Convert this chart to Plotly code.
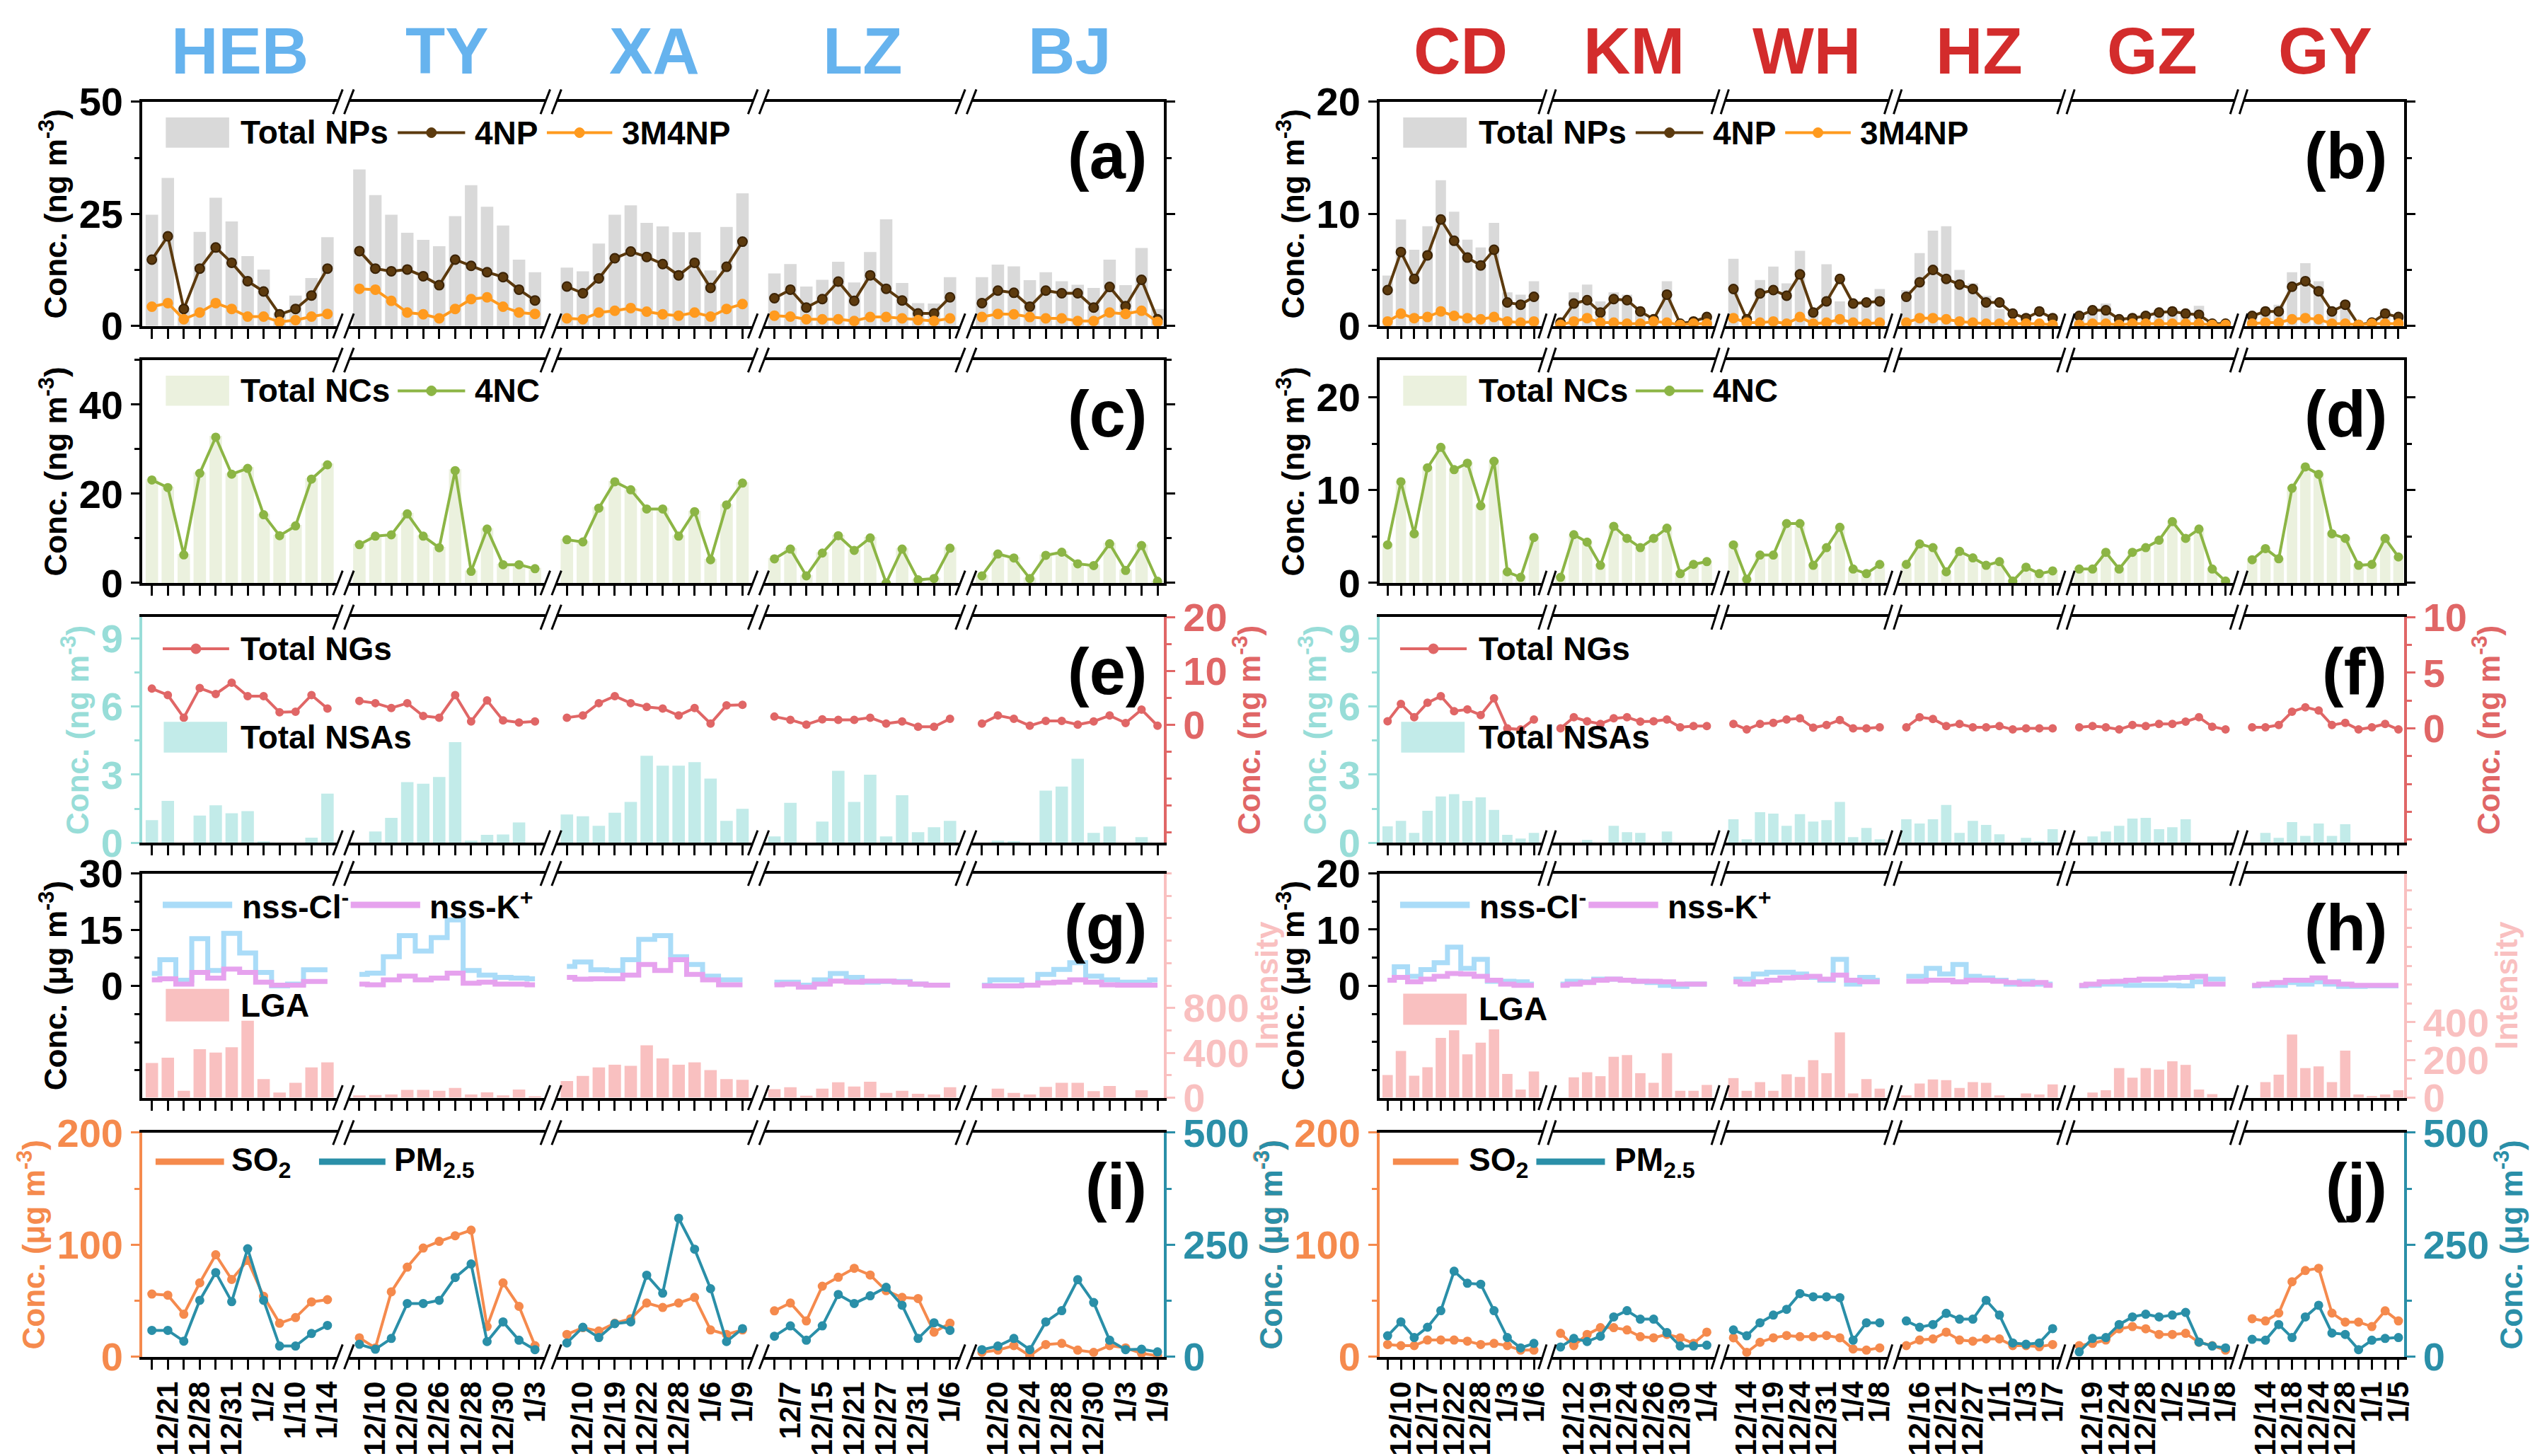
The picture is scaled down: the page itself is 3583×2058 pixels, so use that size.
import plotly.graph_objects as go

# ---------------- data ----------------
CITIES_L = ["HEB", "TY", "XA", "LZ", "BJ"]
CITIES_R = ["CD", "KM", "WH", "HZ", "GZ", "GY"]

DATES_L = [["12/21", "12/28", "12/31", "1/2", "1/10", "1/14"],
           ["12/10", "12/20", "12/26", "12/28", "12/30", "1/3"],
           ["12/10", "12/19", "12/22", "12/28", "1/6", "1/9"],
           ["12/7", "12/15", "12/21", "12/27", "12/31", "1/6"],
           ["12/20", "12/24", "12/28", "12/30", "1/3", "1/9"]]
DATES_R = [["12/10", "12/17", "12/22", "12/28", "1/3", "1/6"],
           ["12/12", "12/19", "12/24", "12/26", "12/30", "1/4"],
           ["12/14", "12/19", "12/24", "12/31", "1/4", "1/8"],
           ["12/16", "12/21", "12/27", "1/1", "1/3", "1/7"],
           ["12/19", "12/24", "12/28", "1/2", "1/5", "1/8"],
           ["12/14", "12/18", "12/24", "12/28", "1/1", "1/5"]]

# (a) left
NP_TOT_L = [[24.8, 33, 4, 21, 28.6, 23.3, 15.6, 12.6, 3, 6.8, 10.7, 19.8],
            [34.9, 29.2, 24.8, 20.8, 19.2, 17.8, 24.5, 31.4, 26.6, 22.4, 14.8, 12],
            [13, 12.2, 18.4, 24.8, 26.9, 23, 22.2, 20.9, 20.9, 12.4, 22.1, 29.6],
            [11.7, 13.8, 8.8, 10.3, 14.3, 9.7, 16.5, 23.8, 9.6, 5.1, 5, 10.9],
            [10.9, 13.7, 13.3, 10.2, 12, 10, 9.2, 8.5, 14.8, 9.1, 17.4, 3.8]]
NP4_L = [[14.8, 20, 3.8, 12.8, 17.5, 14.1, 10, 7.7, 2.6, 3.8, 6.8, 12.8],
         [16.7, 12.8, 12.2, 12.6, 11.1, 9.1, 14.8, 13.4, 12, 10.9, 8.1, 5.7],
         [8.8, 7.3, 10.6, 15.1, 16.6, 15.4, 13.8, 11.3, 14.1, 8.5, 13.2, 18.8],
         [6.2, 8.1, 4.1, 6, 9.9, 5.6, 11.3, 8.3, 5.7, 2.8, 2.8, 6.4],
         [5.1, 7.9, 7.4, 4.3, 7.9, 7.3, 7.3, 4.1, 8.7, 4.4, 10.3, 1.5]]
NP3M4_L = [[4.3, 5.1, 1.5, 3, 5.1, 3.8, 2.1, 2.1, 0.9, 1.3, 2.1, 2.7],
           [8.3, 8.1, 5.6, 3, 2.6, 1.7, 3.8, 6, 6.4, 4.3, 3, 2.7],
           [1.7, 1.5, 3, 3.4, 4, 3.2, 2.6, 2.3, 3, 2.1, 3.8, 4.9],
           [2.3, 2.1, 1.5, 1.5, 1.5, 1.1, 2, 2, 1.7, 1.3, 1.1, 1.7],
           [2, 2.7, 2.6, 2, 1.7, 1.7, 1.1, 1.1, 3, 2.7, 3.4, 0.9]]
# (b) right
NP_TOT_R = [[4.5, 9.5, 6.8, 8.9, 13, 10.2, 7.7, 7, 9.2, 3, 2.8, 4],
            [0.5, 3, 3.7, 2.2, 3, 2.8, 1.4, 0.7, 4, 0.3, 0.5, 0.9],
            [6, 0.9, 4.1, 5.3, 3.8, 6.7, 1.2, 5.5, 2.2, 2.2, 2.2, 3.3],
            [3.2, 6.5, 8.5, 8.9, 5, 3.8, 2.7, 1.5, 0.4, 0.6, 0.3, 0.3],
            [1.1, 1.5, 2, 0.8, 0.9, 1.2, 1.4, 1.4, 1.2, 1.8, 0.3, 0.2],
            [0.9, 1.4, 1.9, 4.8, 5.6, 4, 1.4, 2.1, 0.2, 0.5, 1.5, 0.8]]
NP4_R = [[3.2, 6.6, 4.2, 6.3, 9.5, 7.6, 6.1, 5.4, 6.8, 2.1, 1.9, 2.6],
         [0.3, 2, 2.3, 1.2, 2.4, 2.3, 1.3, 0.6, 2.8, 0.2, 0.4, 0.8],
         [3.3, 0.6, 2.9, 3.2, 2.7, 4.6, 1.2, 2.2, 4.2, 2, 2.1, 2.2],
         [2.6, 3.9, 5, 4.2, 3.7, 3.3, 2.1, 2.1, 1.1, 0.7, 1.3, 0.7],
         [0.9, 1.4, 1.4, 0.6, 0.7, 0.9, 1.2, 1.3, 1.1, 1, 0.2, 0.2],
         [0.9, 1.3, 1.3, 3.5, 4, 3.1, 1.3, 1.9, 0.1, 0.3, 1.1, 0.8]]
NP3M4_R = [[0.4, 1.1, 0.7, 0.8, 1.3, 0.9, 0.7, 0.6, 0.8, 0.4, 0.3, 0.4],
           [0.1, 0.4, 0.7, 0.3, 0.3, 0.2, 0.2, 0.4, 0.3, 0.1, 0.2, 0.2],
           [0.7, 0.3, 0.3, 0.4, 0.2, 0.8, 0.2, 0.3, 0.6, 0.3, 0.2, 0.3],
           [0.3, 0.7, 0.7, 0.6, 0.4, 0.3, 0.2, 0.2, 0.2, 0.2, 0.2, 0.1],
           [0.1, 0.2, 0.2, 0.1, 0.2, 0.2, 0.2, 0.2, 0.2, 0.2, 0.1, 0.1],
           [0.2, 0.3, 0.3, 0.6, 0.7, 0.6, 0.2, 0.2, 0.1, 0.2, 0.2, 0.2]]
# (c) left
NC4_L = [[23.1, 21.4, 6.3, 24.6, 32.7, 24.4, 25.7, 15.3, 10.6, 12.8, 23.3, 26.5],
         [8.6, 10.5, 10.8, 15.5, 10.5, 7.9, 25.2, 2.6, 12.1, 4.1, 4.1, 3.2],
         [9.7, 9.2, 16.8, 22.7, 20.9, 16.6, 16.6, 10.5, 16, 5.2, 17.5, 22.4],
         [5.4, 7.6, 1.6, 6.7, 10.6, 7.3, 10.1, 0, 7.6, 0.7, 1, 7.8],
         [1.6, 6.5, 5.6, 1, 6.2, 6.9, 4.3, 3.9, 8.8, 2.8, 8.4, 0.4]]
NC_TOT_L = [[23.3, 21.6, 6.5, 24.8, 33.0, 24.6, 26.0, 15.5, 10.8, 13.0, 23.5, 26.8],
            [8.8, 10.7, 11.0, 15.7, 10.7, 8.1, 25.5, 2.8, 12.3, 4.3, 4.3, 3.4],
            [9.9, 9.4, 17.0, 22.9, 21.1, 16.8, 16.8, 10.7, 16.2, 5.4, 17.7, 22.6],
            [5.6, 7.8, 1.8, 6.9, 10.8, 7.5, 10.3, 0.1, 7.8, 0.9, 1.2, 8.0],
            [1.8, 6.7, 5.8, 1.2, 6.4, 7.1, 4.5, 4.1, 9.0, 3.0, 8.6, 0.5]]
# (d) right
NC4_R = [[4.1, 10.9, 5.3, 12.4, 14.6, 12.2, 12.9, 8.3, 13.1, 1.2, 0.6, 4.9],
         [0.6, 5.2, 4.4, 1.9, 6.1, 4.8, 3.8, 4.8, 5.9, 1, 2, 2.3],
         [4.1, 0.4, 3, 3, 6.4, 6.4, 1.9, 3.8, 6, 1.5, 1, 2],
         [2, 4.2, 3.8, 1.2, 3.4, 2.7, 1.9, 2.3, 0.2, 1.7, 1, 1.3],
         [1.5, 1.5, 3.3, 1.5, 3.3, 3.8, 4.6, 6.6, 4.8, 5.8, 1.5, 0.2],
         [2.5, 3.7, 2.6, 10.2, 12.5, 11.7, 5.3, 4.8, 1.9, 2, 4.8, 2.8]]
NC_TOT_R = [[4.2, 11.0, 5.4, 12.5, 14.7, 12.3, 13.0, 8.4, 13.2, 1.3, 0.7, 5.0],
            [0.7, 5.3, 4.5, 2.0, 6.2, 4.9, 3.9, 4.9, 6.0, 1.1, 2.1, 2.4],
            [4.2, 0.5, 3.1, 3.1, 6.5, 6.5, 2.0, 3.9, 6.1, 1.6, 1.1, 2.1],
            [2.1, 4.3, 3.9, 1.3, 3.5, 2.8, 2.0, 2.4, 0.3, 1.8, 1.1, 1.4],
            [1.6, 1.6, 3.4, 1.6, 3.4, 3.9, 4.7, 6.7, 4.9, 5.9, 1.6, 0.3],
            [2.6, 3.8, 2.7, 10.3, 12.6, 11.8, 5.4, 4.9, 2.0, 2.1, 4.9, 2.9]]
# (e)
NG_L = [[6.7, 5.5, 1.3, 6.8, 5.7, 7.8, 5.3, 5.3, 2.3, 2.4, 5.5, 3.0],
        [4.4, 4.0, 3.1, 4.0, 1.6, 1.3, 5.5, 0.6, 4.5, 0.8, 0.4, 0.6],
        [1.3, 1.7, 4.0, 5.3, 4.0, 3.3, 3.0, 1.7, 3.1, 0.2, 3.6, 3.7],
        [1.5, 0.9, 0.0, 1.0, 0.9, 0.9, 1.3, 0.2, 0.6, -0.4, -0.4, 1.1],
        [0.2, 1.7, 1.1, -0.2, 0.7, 0.7, 0.0, 0.6, 1.7, 0.3, 2.8, -0.2]]
NSA_L = [[1.0, 1.85, 0, 1.2, 1.65, 1.3, 1.4, 0.05, 0, 0, 0.23, 2.17],
         [0, 0.5, 1.1, 2.67, 2.6, 2.9, 4.43, 0.1, 0.35, 0.37, 0.9, 0],
         [1.25, 1.17, 0.75, 1.33, 1.8, 3.83, 3.4, 3.4, 3.55, 2.83, 0.97, 1.5],
         [0.28, 1.76, 0, 0.94, 3.17, 1.8, 3.0, 0.28, 2.1, 0.47, 0.69, 0.97],
         [0, 0.1, 0.07, 0, 2.3, 2.48, 3.7, 0.44, 0.72, 0, 0.25, 0]]
# (f)
NG_R = [[0.64, 2.2, 1.0, 2.3, 2.9, 1.55, 1.7, 1.2, 2.7, 0.0, -0.1, 0.8],
        [0.0, 1.0, 0.64, 0.4, 0.9, 1.0, 0.6, 0.64, 0.8, 0.1, 0.2, 0.2],
        [0.4, -0.1, 0.4, 0.5, 0.8, 0.9, 0.06, 0.3, 0.75, 0.0, 0.0, 0.1],
        [0.1, 1.0, 0.85, 0.2, 0.4, 0.1, 0.1, 0.2, -0.1, 0.0, 0.0, 0.0],
        [0.1, 0.2, 0.1, -0.1, 0.3, 0.2, 0.4, 0.4, 0.6, 1.0, 0.15, -0.1],
        [0.1, 0.1, 0.3, 1.5, 1.9, 1.6, 0.3, 0.5, -0.1, 0.1, 0.4, -0.1]]
NSA_R = [[0.73, 0.97, 0.44, 1.41, 2.04, 2.14, 1.85, 2.0, 1.45, 0.35, 0.19, 0.44],
         [0, 0, 0.13, 0, 0.75, 0.47, 0.44, 0, 0.5, 0, 0, 0],
         [1.04, 0.16, 1.35, 1.29, 0.75, 1.26, 0.94, 1.0, 1.8, 0.25, 0.66, 0.16],
         [1.04, 0.85, 1.04, 1.67, 0.44, 0.97, 0.79, 0.38, 0, 0.22, 0.05, 0.6],
         [0, 0.28, 0.5, 0.75, 1.07, 1.1, 0.6, 0.69, 1.04, 0, 0, 0],
         [0, 0.44, 0.22, 0.91, 0.31, 0.85, 0.31, 0.82, 0, 0, 0, 0]]
# (g)
CL_L = [[3.3, 7, 1.5, 12.6, 4.1, 14, 8.8, 3.6, 0, 0.5, 4.3, 4.3],
        [3.1, 3.4, 7.8, 13.4, 9.3, 12.9, 17.6, 4.1, 2.9, 2.3, 2.1, 1.9],
        [5.2, 6.4, 4.3, 4.1, 7, 12.4, 13.4, 7.8, 5.7, 2.6, 1.6, 1.6],
        [1, 1, 0.2, 1.6, 3.3, 2.3, 1, 1.2, 1.2, 0.5, 0.2, 0.2],
        [0.2, 1.6, 1.6, 0.2, 3.1, 4.4, 6.2, 2.6, 1.6, 1, 1, 1.6]]
K_L = [[1.6, 1.9, 0.5, 3.6, 2.1, 4.5, 3.6, 1, 0.2, 0.2, 1.2, 1.2],
       [0.5, 0.3, 1.6, 2.6, 1.6, 2.1, 3.4, 0.7, 1, 0.5, 0.5, 0.3],
       [2.3, 1.8, 1.9, 1.9, 2.9, 5.7, 4.1, 7, 3.1, 1.6, 0.3, 0.3],
       [0.3, 0.5, -0.3, 0.5, 1.3, 1, 1.3, 1.3, 1, 0.5, 0.2, 0.2],
       [0, 0, 0, 0.2, 0.8, 1, 1.6, 1, 0.3, 0.2, 0.2, 0.2]]
LGA_L = [[310, 357, 62, 433, 402, 450, 686, 166, 45, 132, 270, 315],
         [21, 24, 28, 69, 69, 62, 87, 28, 48, 21, 73, 10],
         [149, 194, 270, 294, 284, 467, 350, 294, 315, 246, 166, 159],
         [76, 93, 17, 80, 138, 100, 142, 42, 62, 35, 28, 93],
         [0, 80, 42, 28, 97, 132, 132, 59, 104, 0, 66, 0]]
# (h)
CL_R = [[1, 3.4, 1.7, 2.9, 4.1, 6.9, 3.1, 4.7, 0.8, 0.8, 0.7, 0.3],
        [0.3, 0.8, 0.7, 1.2, 1.2, 1, 0.8, 0.6, 0.1, -0.1, 0.3, 0.3],
        [1.2, 1.2, 2.1, 2.4, 2.4, 2.1, 1.5, 1, 4.7, 0.3, 1.5, 1],
        [1.7, 1.7, 3.1, 2.1, 3.8, 1.7, 1.4, 1, 0.3, 0.8, 0.3, 0.3],
        [0, 0.1, 0.3, 0.3, 0.1, 0.1, 0.1, 0.1, 0, 0.7, 1.2, 1.2],
        [0, 0.1, 0.1, 0.6, 0.3, 0.7, 0.3, -0.1, -0.1, 0, 0, 0]]
K_R = [[1, 1.5, 0.7, 1.2, 1.7, 2.2, 2.1, 1.7, 1, 0.3, 0.1, 0.1],
       [0.1, 0.3, 0.6, 1, 1.2, 1, 0.8, 0.8, 0.7, 0.3, 0.3, 0.3],
       [0.7, 0.3, 0.7, 1, 1.4, 1.5, 1.7, 1.2, 1.9, 1, 0.7, 0.7],
       [0.8, 0.8, 1, 1, 0.7, 1, 1, 0.8, 0.6, 0.3, 0.6, 0.1],
       [0.1, 0.3, 0.7, 0.8, 1, 1.2, 1.2, 1.4, 1.5, 1.7, 0.3, 0.3],
       [0.1, 0.3, 0.6, 1, 1, 1.4, 0.7, 0.3, 0.1, 0.1, 0.1, 0.1]]
LGA_R = [[120, 248, 116, 161, 317, 358, 230, 292, 362, 126, 43, 139],
         [0, 108, 135, 114, 217, 226, 130, 79, 236, 37, 37, 68],
         [104, 37, 83, 37, 124, 110, 199, 130, 346, 23, 99, 48],
         [12, 75, 97, 93, 52, 83, 79, 12, 0, 23, 17, 70],
         [0, 27, 39, 157, 106, 157, 149, 193, 174, 43, 19, 0],
         [0, 83, 122, 335, 157, 166, 83, 250, 17, 8, 17, 39]]
# (i)
SO2_L = [[56, 55, 38, 66, 91, 69, 86, 54, 30, 35, 49, 51],
         [17, 8, 58, 80, 97, 103, 108, 113, 27, 66, 45, 10],
         [20, 26, 23, 30, 34, 48, 44, 48, 53, 24, 20, 24],
         [41, 48, 32, 63, 71, 79, 73, 59, 53, 52, 22, 30],
         [4, 6, 10, 1, 11, 12, 6, 4, 10, 8, 3, 1]]
PM_L = [[59, 59, 35, 126, 188, 123, 241, 126, 24, 24, 52, 70],
        [28, 17, 41, 119, 119, 126, 177, 207, 34, 78, 37, 16],
        [31, 66, 43, 74, 78, 182, 142, 309, 240, 152, 34, 63],
        [46, 69, 37, 69, 139, 119, 136, 155, 115, 41, 76, 59],
        [16, 24, 41, 16, 78, 103, 172, 121, 37, 16, 17, 11]]
# (j)
SO2_R = [[11, 10, 10, 15, 15, 15, 14, 11, 12, 10, 6, 6],
         [21, 10, 20, 26, 26, 24, 18, 17, 20, 17, 12, 22],
         [17, 4, 13, 17, 19, 18, 18, 19, 17, 7, 6, 8],
         [10, 15, 16, 22, 15, 14, 16, 16, 10, 10, 9, 11],
         [10, 12, 15, 25, 27, 25, 20, 20, 21, 13, 10, 6],
         [34, 32, 39, 67, 77, 79, 39, 31, 31, 27, 41, 32]]
PM_R = [[47, 78, 43, 66, 103, 191, 164, 162, 103, 43, 20, 30],
        [22, 41, 34, 46, 89, 103, 84, 84, 54, 24, 24, 26],
        [60, 47, 76, 93, 106, 141, 134, 134, 132, 37, 76, 76],
        [80, 66, 72, 97, 84, 84, 126, 93, 31, 28, 31, 63],
        [11, 41, 43, 72, 89, 95, 89, 93, 99, 33, 24, 20],
        [39, 37, 72, 43, 89, 115, 53, 50, 16, 37, 41, 43]]

# ---------------- style ----------------
C_NPBAR = "#d9d9d9"; C_4NP = "#5c3a0e"; C_3M = "#ff9a1e"
C_NCBAR = "#ebf1de"; C_4NC = "#8cb545"
C_NG = "#e06666"; C_NSA = "#c2ebe9"; C_NSAAX = "#98ddd8"
C_CL = "#aadcf8"; C_K = "#e6a2ee"; C_LGA = "#f9c0c0"
C_SO2 = "#f58a4d"; C_PM = "#2a8fa8"
C_BLUE = "#66b3ee"; C_RED = "#d32c2c"

NPTS = 12; STEP = 13
FN = "Liberation Sans Narrow, Liberation Sans, Arial"
FW = "Liberation Sans, Arial"

XL = [0.0539, 0.4569]; XR = [0.542, 0.946]
ROWS = [[0.780, 0.934], [0.6035, 0.7566], [0.425, 0.580], [0.250, 0.404], [0.072, 0.226]]

fig = go.Figure()
layout = dict(width=3583, height=2058, margin=dict(l=0, r=0, t=0, b=0, autoexpand=False),
              plot_bgcolor="white", paper_bgcolor="white", showlegend=False,
              barmode="overlay", bargap=0.2)
shapes = []; annotations = []


def xn(k):
    return "x" if k == 1 else "x%d" % k


def yn(k):
    return "y" if k == 1 else "y%d" % k


def positions(nseg):
    return [[s * STEP + i for i in range(NPTS)] for s in range(nseg)]


def joined(lists, nseg):
    xs, ys = [], []
    pos = positions(nseg)
    for s in range(nseg):
        xs += pos[s] + [None]
        ys += list(lists[s]) + [None]
    return xs, ys


def flat(lists, nseg):
    pos = positions(nseg)
    xs, ys = [], []
    for s in range(nseg):
        xs += pos[s]; ys += list(lists[s])
    return xs, ys


def legend(k, items):
    """items: (kind, color, text, x0, x1, y, y1 or None, textx)"""
    xr = xn(k) + " domain"; yr = yn(k) + " domain"
    for kind, color, text, x0, x1, y, y1, tx in items:
        if kind == "rect":
            shapes.append(dict(type="rect", xref=xr, yref=yr, x0=x0, x1=x1, y0=y, y1=y1,
                               fillcolor=color, line=dict(width=0), layer="above"))
            ty = (y + y1) / 2
        else:
            w = 4 if kind == "mline" else 9
            shapes.append(dict(type="line", xref=xr, yref=yr, x0=x0, x1=x1, y0=y, y1=y,
                               line=dict(color=color, width=w), layer="above"))
            if kind == "mline":
                shapes.append(dict(type="circle", xref=xr, yref=yr, xsizemode="pixel",
                                   ysizemode="pixel", xanchor=(x0 + x1) / 2, yanchor=y,
                                   x0=-7, x1=7, y0=-7, y1=7, fillcolor=color,
                                   line=dict(color=color, width=1), layer="above"))
            ty = y
        annotations.append(dict(xref=xr, yref=yr, x=tx, y=ty, xanchor="left", yanchor="middle",
                                showarrow=False, text=text,
                                font=dict(family=FN, size=46, color="black", weight="bold")))


def add_axes(k, kk, xdom, ydom, nseg, yrange, ytick, ydtick, ylab, ycolor, bottom, dates,
             sec=None):
    xa = "xaxis" if k == 1 else "xaxis%d" % k
    ya = "yaxis" if k == 1 else "yaxis%d" % k
    pos = positions(nseg)
    tv = [p for seg in pos for p in seg]
    tt = [""] * len(tv)
    if bottom:
        for s in range(nseg):
            for j, d in enumerate(dates[s]):
                tt[s * NPTS + 2 * j + 1] = d
    layout[xa] = dict(domain=xdom, anchor=yn(k), range=[-0.6, (nseg - 1) * STEP + NPTS - 0.6],
                      showline=True, linecolor="black", linewidth=4, mirror=True, automargin=False,
                      ticks="outside", ticklen=14, tickwidth=3, tickcolor="black",
                      tickvals=tv, ticktext=tt, tickangle=-90, showgrid=False, zeroline=False,
                      tickfont=dict(family=FW, size=42, color="black", weight="bold"))
    layout[ya] = dict(domain=ydom, anchor=xn(k), range=yrange, showgrid=False, zeroline=False,
                      showline=True, linecolor=ycolor, linewidth=4, ticks="outside", ticklen=12,
                      tickwidth=3, tickcolor=ycolor, automargin=False,
                      tickvals=ytick, mirror=("ticks" if sec is None else False),
                      tickfont=dict(family=FN, size=56, color=ycolor, weight="bold"),
                      title=dict(text=ylab, standoff=4,
                                 font=dict(family=FW, size=44, color=ycolor, weight="bold")),
                      minor=dict(ticks="outside", ticklen=7, tickwidth=3, tickcolor=ycolor,
                                 dtick=ydtick / 2))
    if sec is not None:
        srange, stick, sdtick, slab, scolor = sec
        layout["yaxis%d" % kk] = dict(overlaying=yn(k), side="right", anchor=xn(k), automargin=False,
                                      range=srange, tickvals=stick, showgrid=False, zeroline=False,
                                      showline=True, linecolor=scolor, linewidth=4,
                                      ticks="outside", ticklen=12, tickwidth=3, tickcolor=scolor,
                                      tickfont=dict(family=FN, size=56, color=scolor, weight="bold"),
                                      title=dict(text=slab, standoff=4,
                                                 font=dict(family=FW, size=44, color=scolor,
                                                           weight="bold")),
                                      minor=dict(ticks="outside", ticklen=7, tickwidth=3,
                                                 tickcolor=scolor, dtick=sdtick / 2))
    # axis breaks
    for s in range(1, nseg):
        xb = s * STEP - 1
        for yy in (0, 1):
            shapes.append(dict(type="line", xref=xn(k), yref=yn(k) + " domain",
                               x0=xb - 0.35, x1=xb + 0.35, y0=yy, y1=yy,
                               line=dict(color="white", width=9), layer="above"))
            for dx in (-0.35, 0.35):
                shapes.append(dict(type="line", xref=xn(k), yref=yn(k) + " domain",
                                   x0=xb + dx - 0.3, x1=xb + dx + 0.3, y0=yy - 0.055, y1=yy + 0.055,
                                   line=dict(color="black", width=3), layer="above"))


def panel_label(k, text):
    annotations.append(dict(xref=xn(k) + " domain", yref=yn(k) + " domain", x=0.985, y=0.76,
                            xanchor="right", yanchor="middle", showarrow=False, text=text,
                            font=dict(family=FW, size=92, color="black", weight="bold")))


def bar(k, ya, lists, nseg, color, name):
    xs, ys = flat(lists, nseg)
    fig.add_trace(go.Bar(x=xs, y=ys, xaxis=xn(k), yaxis=ya, marker=dict(color=color, line=dict(width=0)),
                         width=0.78, name=name))


def line(k, ya, lists, nseg, color, name, marker=True, shape="linear", edge=None, msize=13):
    xs, ys = joined(lists, nseg)
    fig.add_trace(go.Scatter(x=xs, y=ys, xaxis=xn(k), yaxis=ya,
                             mode="lines+markers" if marker else "lines",
                             line=dict(color=color, width=4 if marker else 7, shape=shape),
                             marker=dict(size=msize, color=color, line=dict(color=edge or color, width=2)),
                             name=name, connectgaps=False))


NL, NR = 5, 6
sides = [(NL, XL, CITIES_L, DATES_L, C_BLUE), (NR, XR, CITIES_R, DATES_R, C_RED)]
CONC_NG = "Conc. (ng m<sup>-3</sup>)"
CONC_UG = "Conc. (μg m<sup>-3</sup>)"

data = {
    0: dict(NP=NP_TOT_L, NP4=NP4_L, NP3=NP3M4_L, NC=NC_TOT_L, NC4=NC4_L, NG=NG_L, NSA=NSA_L,
            CL=CL_L, K=K_L, LGA=LGA_L, SO2=SO2_L, PM=PM_L),
    1: dict(NP=NP_TOT_R, NP4=NP4_R, NP3=NP3M4_R, NC=NC_TOT_R, NC4=NC4_R, NG=NG_R, NSA=NSA_R,
            CL=CL_R, K=K_R, LGA=LGA_R, SO2=SO2_R, PM=PM_R),
}
cfg = {
    0: dict(a=[0, 50], at=[0, 25, 50], ad=25, c=[0, 50], ct=[0, 20, 40], cd=20,
            er=[-22, 20], et=[0, 10, 20], ed=10, g=[-29.8, 30], gt=[0, 15, 30], gd=15,
            gr=[0, 2000], grt=[0, 400, 800], grd=400, lga=(0.485, 0.34),
            so=(0.013, 0.08, 0.086, 0.173, 0.238, 0.245)),
    1: dict(a=[0, 20], at=[0, 10, 20], ad=10, c=[0, 24], ct=[0, 10, 20], cd=10,
            er=[-10.3, 10], et=[0, 5, 10], ed=5, g=[-19.9, 20], gt=[0, 10, 20], gd=10,
            gr=[0, 1190], grt=[0, 200, 400], grd=200, lga=(0.464, 0.325),
            so=(0.013, 0.077, 0.086, 0.153, 0.22, 0.228)),
}
lab = "abcdefghij"

for side, (nseg, xdom, cities, dates, ccol) in enumerate(sides):
    D = data[side]; C = cfg[side]
    # row 0
    k = 1 + side
    add_axes(k, 0, xdom, ROWS[0], nseg, C["a"], C["at"], C["ad"], CONC_NG, "black", False, dates)
    bar(k, yn(k), D["NP"], nseg, C_NPBAR, "Total NPs")
    line(k, yn(k), D["NP4"], nseg, C_4NP, "4NP", edge="#3a2205")
    line(k, yn(k), D["NP3"], nseg, C_3M, "3M4NP")
    legend(k, [("rect", C_NPBAR, "Total NPs", 0.023, 0.085, 0.795, 0.93, 0.095),
               ("mline", C_4NP, "4NP", 0.25, 0.316, 0.862, None, 0.324),
               ("mline", C_3M, "3M4NP", 0.396, 0.46, 0.862, None, 0.468)])
    panel_label(k, "(%s)" % lab[side])
    for s, c in enumerate(cities):
        annotations.append(dict(xref=xn(k), yref="paper", x=s * STEP + 5.5, y=0.969,
                                text=c, showarrow=False, yanchor="middle",
                                font=dict(family=FW, size=92, color=ccol, weight="bold")))
    # row 1
    k = 3 + side
    add_axes(k, 0, xdom, ROWS[1], nseg, C["c"], C["ct"], C["cd"], CONC_NG, "black", False, dates)
    bar(k, yn(k), D["NC"], nseg, C_NCBAR, "Total NCs")
    line(k, yn(k), D["NC4"], nseg, C_4NC, "4NC", msize=11)
    legend(k, [("rect", C_NCBAR, "Total NCs", 0.023, 0.085, 0.795, 0.93, 0.095),
               ("mline", C_4NC, "4NC", 0.25, 0.316, 0.862, None, 0.324)])
    panel_label(k, "(%s)" % lab[2 + side])
    # row 2
    k = 5 + side; kk = 11 + side
    add_axes(k, kk, xdom, ROWS[2], nseg, [0, 9.93], [0, 3, 6, 9], 3, CONC_NG, C_NSAAX, False, dates,
             sec=(C["er"], C["et"], C["ed"], CONC_NG, C_NG))
    bar(k, yn(k), D["NSA"], nseg, C_NSA, "Total NSAs")
    line(k, "y%d" % kk, D["NG"], nseg, C_NG, "Total NGs", msize=10)
    legend(k, [("mline", C_NG, "Total NGs", 0.02, 0.085, 0.86, None, 0.095),
               ("rect", C_NSA, "Total NSAs", 0.021, 0.083, 0.40, 0.536, 0.095)])
    panel_label(k, "(%s)" % lab[4 + side])
    # row 3
    k = 7 + side; kk = 13 + side
    add_axes(k, kk, xdom, ROWS[3], nseg, C["g"], C["gt"], C["gd"], CONC_UG, "black", False, dates,
             sec=(C["gr"], C["grt"], C["grd"], "Intensity", C_LGA))
    bar(k, "y%d" % kk, D["LGA"], nseg, C_LGA, "LGA")
    line(k, yn(k), D["CL"], nseg, C_CL, "nss-Cl-", marker=False, shape="hvh")
    line(k, yn(k), D["K"], nseg, C_K, "nss-K+", marker=False, shape="hvh")
    legend(k, [("line", C_CL, "nss-Cl<sup>-</sup>", 0.02, 0.088, 0.86, None, 0.096),
               ("line", C_K, "nss-K<sup>+</sup>", 0.204, 0.272, 0.86, None, 0.28),
               ("rect", C_LGA, "LGA", 0.023, 0.085, C["lga"][1], C["lga"][0], 0.095)])
    panel_label(k, "(%s)" % lab[6 + side])
    # row 4
    k = 9 + side; kk = 15 + side
    add_axes(k, kk, xdom, ROWS[4], nseg, [0, 200], [0, 100, 200], 100, CONC_UG, C_SO2, True, dates,
             sec=([0, 500], [0, 250, 500], 250, CONC_UG, C_PM))
    line(k, yn(k), D["SO2"], nseg, C_SO2, "SO2", msize=11)
    line(k, "y%d" % kk, D["PM"], nseg, C_PM, "PM2.5", msize=11)
    so = C["so"]
    legend(k, [("line4", C_SO2, "SO<sub>2</sub>", so[0], so[1], 0.87, None, so[2]),
               ("line4", C_PM, "PM<sub>2.5</sub>", so[3], so[4], 0.87, None, so[5])])
    panel_label(k, "(%s)" % lab[8 + side])

layout["shapes"] = shapes
layout["annotations"] = annotations
fig.update_layout(**layout)
fig.write_html("out.html")
